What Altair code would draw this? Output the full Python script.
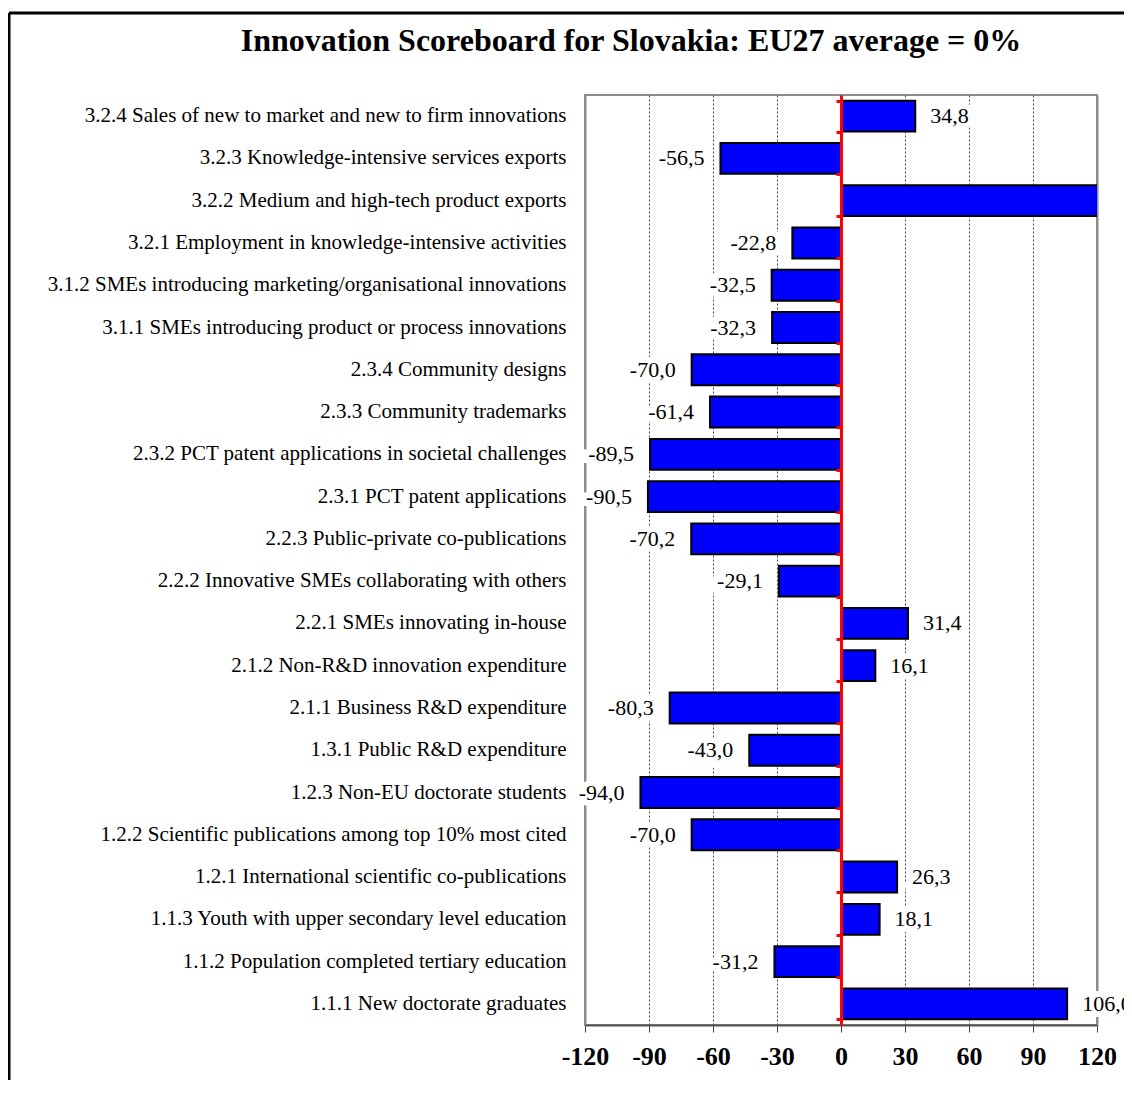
import altair as alt
import pandas as pd

categories = [
    "3.2.4 Sales of new to market and new to firm innovations",
    "3.2.3 Knowledge-intensive services exports",
    "3.2.2 Medium and high-tech product exports",
    "3.2.1 Employment in knowledge-intensive activities",
    "3.1.2 SMEs introducing marketing/organisational innovations",
    "3.1.1 SMEs introducing product or process innovations",
    "2.3.4 Community designs",
    "2.3.3 Community trademarks",
    "2.3.2 PCT patent applications in societal challenges",
    "2.3.1 PCT patent applications",
    "2.2.3 Public-private co-publications",
    "2.2.2 Innovative SMEs collaborating with others",
    "2.2.1 SMEs innovating in-house",
    "2.1.2 Non-R&D innovation expenditure",
    "2.1.1 Business R&D expenditure",
    "1.3.1 Public R&D expenditure",
    "1.2.3 Non-EU doctorate students",
    "1.2.2 Scientific publications among top 10% most cited",
    "1.2.1 International scientific co-publications",
    "1.1.3 Youth with upper secondary level education",
    "1.1.2 Population completed tertiary education",
    "1.1.1 New doctorate graduates",
]
values = [34.8, -56.5, 140.0, -22.8, -32.5, -32.3, -70.0, -61.4, -89.5, -90.5,
          -70.2, -29.1, 31.4, 16.1, -80.3, -43.0, -94.0, -70.0, 26.3, 18.1,
          -31.2, 106.0]
tick_values = [-120, -90, -60, -30, 0, 30, 60, 90, 120]
title_text = "Innovation Scoreboard for Slovakia: EU27 average = 0%"

df = pd.DataFrame({"indicator": categories, "value": values})
df["label"] = [f"{v:.1f}".replace(".", ",") for v in values]

FONT = "Liberation Serif"
W, H = 512, 930
PAD_L, PAD_T, PAD_R, PAD_B = 577, 87, 27, 55

xscale = alt.Scale(domain=[-120, 120], nice=False)
yscale = alt.Scale(paddingInner=0.27, paddingOuter=0.135)

base = alt.Chart(df)

edge = "abs(datum.value) == 120"
x_axis = alt.Axis(
    values=tick_values, title=None, grid=True, labelOverlap=False,
    labelFlush=False, labelExpr="datum.value + ''",
    gridColor={"condition": {"test": edge, "value": "#8c8c8c"}, "value": "#444444"},
    gridDash={"condition": {"test": edge, "value": [1, 0]}, "value": [2, 2]},
    gridWidth={"condition": {"test": edge, "value": 2}, "value": 1},
    labelFont=FONT, labelFontSize=26, labelFontWeight="bold", labelColor="black",
    labelPadding=11, tickSize=7, tickColor="#444444", tickWidth=1,
    domainColor="#555555", domainWidth=2,
)
y_axis = alt.Axis(
    title=None, labelFont=FONT, labelFontSize=21, labelColor="black",
    labelPadding=19, ticks=False, domain=False, labelLimit=0, grid=False,
)

bars = base.mark_bar(color="#0000FF", stroke="black", strokeWidth=2, clip=True).encode(
    x=alt.X("value:Q", scale=xscale, axis=x_axis),
    x2=alt.datum(0),
    y=alt.Y("indicator:N", sort=categories, scale=yscale, axis=y_axis),
)

red_axis = base.mark_point(opacity=0).encode(
    x=alt.X("value:Q", scale=xscale),
    y=alt.Y("indicator:N", sort=categories, scale=yscale,
            axis=alt.Axis(orient="left", offset=-256, labels=False, title=None,
                          ticks=True, tickBand="extent", tickColor="red",
                          tickSize=5, tickWidth=3, domainColor="red",
                          domainWidth=3, grid=False, zindex=2)),
)

neg = base.transform_filter("datum.value < 0")
pos = base.transform_filter("datum.value > 0 && datum.value <= 120")

def txt(src, align, dx, halo):
    kw = dict(align=align, dx=dx, font=FONT, fontSize=22, baseline="middle")
    if halo:
        kw.update(color="white", stroke="white", strokeWidth=12)
    else:
        kw.update(color="black")
    return src.mark_text(**kw).encode(
        x=alt.X("value:Q", scale=xscale),
        y=alt.Y("indicator:N", sort=categories, scale=yscale, axis=None),
        text="label:N",
    )

frame_df = pd.DataFrame({"frame": [0]})
frame_left = alt.Chart(frame_df).mark_rule(color="black", strokeWidth=3).encode(
    x=alt.value(-576), y=alt.value(-82), y2=alt.value(H + PAD_B))
frame_top = alt.Chart(frame_df).mark_rule(color="black", strokeWidth=3).encode(
    x=alt.value(-576), x2=alt.value(W + PAD_R), y=alt.value(-82))

chart = alt.layer(
    bars, red_axis,
    txt(neg, "right", -16, True), txt(pos, "left", 15, True),
    txt(neg, "right", -16, False), txt(pos, "left", 15, False),
    frame_left, frame_top,
).resolve_axis(y="independent").properties(
    width=W, height=H,
    autosize=alt.AutoSizeParams(type="none"),
    padding={"left": PAD_L, "top": PAD_T, "right": PAD_R, "bottom": PAD_B},
    title=alt.TitleParams(title_text, font=FONT, fontSize=32, fontWeight="bold",
                          color="black", anchor="middle", dx=-210, offset=-46),
).configure_view(stroke="#8c8c8c", strokeWidth=2)

chart.save("out.html", embed_options={"renderer": "svg", "actions": False})
